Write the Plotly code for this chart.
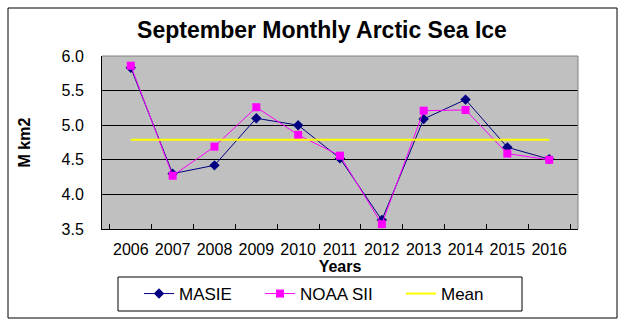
import plotly.graph_objects as go

years = ["2006", "2007", "2008", "2009", "2010", "2011", "2012", "2013", "2014", "2015", "2016"]
masie = [5.83, 4.30, 4.42, 5.10, 5.00, 4.52, 3.63, 5.09, 5.37, 4.68, 4.51]
noaa_sii = [5.86, 4.27, 4.69, 5.26, 4.86, 4.56, 3.57, 5.21, 5.22, 4.59, 4.50]
mean_value = 4.79
mean_line = [mean_value] * len(years)
y_ticks = [3.5, 4.0, 4.5, 5.0, 5.5, 6.0]

FONT = "Liberation Sans, Arial, sans-serif"
W, H = 630, 331
L, R, T, B = 102, 52, 56, 102
PW, PH = W - L - R, H - T - B


def px_x(p):
    return (p - L) / PW


def px_y(p):
    return (H - B - p) / PH


fig = go.Figure()
fig.add_trace(go.Scatter(
    x=years, y=masie, name="MASIE", mode="lines+markers",
    line=dict(color="#000080", width=1),
    marker=dict(symbol="diamond", size=8, color="#000080"),
    legend="legend4",
))
fig.add_trace(go.Scatter(
    x=years, y=noaa_sii, name="NOAA SII", mode="lines+markers",
    line=dict(color="#FF00FF", width=1),
    marker=dict(symbol="square", size=8, color="#FF00FF"),
    legend="legend2",
))
fig.add_trace(go.Scatter(
    x=years, y=mean_line, name="Mean", mode="lines",
    line=dict(color="#FFFF00", width=2),
    legend="legend3",
))

leg_common = dict(
    orientation="h", yanchor="middle", xanchor="left",
    y=px_y(294), bgcolor="rgba(0,0,0,0)",
    font=dict(family=FONT, size=17, color="black"),
    borderwidth=0,
)

fig.update_layout(
    width=W, height=H,
    margin=dict(l=L, r=R, t=T, b=B, autoexpand=False),
    paper_bgcolor="white",
    plot_bgcolor="#C0C0C0",
    font=dict(family=FONT, color="black"),
    title=dict(
        text="<b>September Monthly Arctic Sea Ice</b>",
        x=322 / W, xanchor="center", y=1 - 30 / H, yanchor="middle",
        font=dict(family=FONT, size=23, color="black"),
    ),
    xaxis=dict(
        type="category", tickson="boundaries", ticks="inside", ticklen=5,
        tickcolor="black", showgrid=False, showline=True, linecolor="black",
        linewidth=1, tickfont=dict(size=16), tickangle=0, ticklabelstandoff=6,
        title=dict(text="<b>Years</b>", font=dict(size=16), standoff=2),
    ),
    yaxis=dict(
        range=[3.5, 6.0], tickvals=y_ticks, tickformat=".1f",
        showgrid=True, gridcolor="black", gridwidth=1, zeroline=False,
        showline=True, linecolor="black", linewidth=1, ticks="",
        tickfont=dict(size=16), ticklabelstandoff=14,
        title=dict(text="<b>M km2</b>", font=dict(size=16), standoff=26),
    ),
    showlegend=True,
    legend2=dict(x=px_x(260), **leg_common),
    legend3=dict(x=px_x(401), **leg_common),
    legend4=dict(x=px_x(139), **leg_common),
    shapes=[
        dict(type="line", xref="paper", yref="paper", x0=0, x1=1, y0=1, y1=1,
             line=dict(color="#808080", width=1), layer="above"),
        dict(type="line", xref="paper", yref="paper", x0=1, x1=1, y0=0, y1=1,
             line=dict(color="#808080", width=1), layer="above"),
        dict(type="rect", xref="paper", yref="paper",
             x0=px_x(118), x1=px_x(522), y0=px_y(311), y1=px_y(277),
             line=dict(color="black", width=1)),
        dict(type="rect", xref="paper", yref="paper",
             x0=px_x(8), x1=px_x(617), y0=px_y(318), y1=px_y(8),
             line=dict(color="black", width=1)),
    ],
)

fig.write_html("out.html")
